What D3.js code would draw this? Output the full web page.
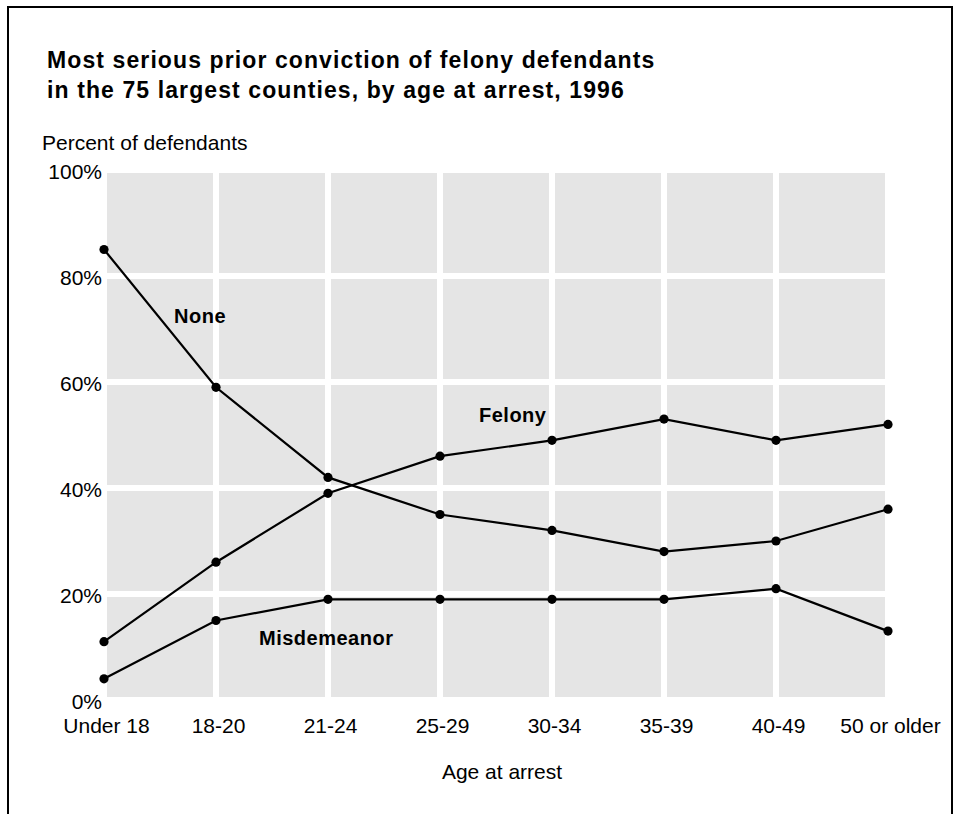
<!DOCTYPE html>
<html>
<head>
<meta charset="utf-8">
<script src="https://cdn.jsdelivr.net/npm/d3@7/dist/d3.min.js"></script>
<style>
  html, body { margin: 0; padding: 0; background: #fff; }
  svg { display: block; font-family: "Liberation Sans", Arial, sans-serif; }
</style>
</head>
<body>
<svg id="chart" width="959" height="814"></svg>
<script>
const categories = ["Under 18", "18-20", "21-24", "25-29", "30-34", "35-39", "40-49", "50 or older"];
const noneValues = [85, 59, 42, 35, 32, 28, 30, 36];
const felonyValues = [11, 26, 39, 46, 49, 53, 49, 52];
const misdemeanorValues = [4, 15, 19, 19, 19, 19, 21, 13];
const yTicks = [0, 20, 40, 60, 80, 100];
const titleLines = ["Most serious prior conviction of felony defendants",
                    "in the 75 largest counties, by age at arrest, 1996"];
const yAxisTitle = "Percent of defendants";
const xAxisTitle = "Age at arrest";
const seriesLabels = ["None", "Felony", "Misdemeanor"];

const svg = d3.select("#chart");

// frame
svg.append("rect").attr("x", 8).attr("y", 7).attr("width", 944).attr("height", 900)
  .attr("fill", "none").attr("stroke", "#000").attr("stroke-width", 2);

const x = d3.scalePoint().domain(categories).range([104, 888]);
const y = d3.scaleLinear().domain([0, 100]).range([700, 170]);

// plot background
svg.append("rect")
  .attr("x", x(categories[0]) + 3).attr("y", y(100) + 3)
  .attr("width", x(categories[categories.length - 1]) - x(categories[0]) - 6)
  .attr("height", y(0) - y(100) - 6)
  .attr("fill", "#e5e5e5");

// white grid lines
svg.append("g").selectAll("line").data(categories.slice(1, -1)).join("line")
  .attr("x1", d => x(d)).attr("x2", d => x(d))
  .attr("y1", y(100)).attr("y2", y(0))
  .attr("stroke", "#fff").attr("stroke-width", 6);
svg.append("g").selectAll("line").data(yTicks.slice(1, -1)).join("line")
  .attr("x1", x(categories[0])).attr("x2", x(categories[categories.length - 1]))
  .attr("y1", d => y(d)).attr("y2", d => y(d))
  .attr("stroke", "#fff").attr("stroke-width", 6);

// y axis
const yAxis = svg.append("g").attr("transform", "translate(102,0)")
  .call(d3.axisLeft(y).tickValues(yTicks).tickFormat(d => d + "%").tickSize(0).tickPadding(0));
yAxis.select(".domain").remove();
yAxis.selectAll("text").attr("font-size", 21).attr("fill", "#000")
  .attr("font-family", "Liberation Sans, Arial, sans-serif").attr("dy", "0.4em");

// x axis
const xAxis = svg.append("g").attr("transform", "translate(2," + y(0) + ")")
  .call(d3.axisBottom(x).tickSize(0).tickPadding(18));
xAxis.select(".domain").remove();
xAxis.selectAll("text").attr("font-size", 21).attr("fill", "#000")
  .attr("font-family", "Liberation Sans, Arial, sans-serif");

// titles
svg.append("text").attr("x", 47).attr("y", 68).attr("font-weight", "bold")
  .attr("font-size", 23).attr("letter-spacing", 1.1).text(titleLines[0]);
svg.append("text").attr("x", 47).attr("y", 98).attr("font-weight", "bold")
  .attr("font-size", 23).attr("letter-spacing", 1.1).text(titleLines[1]);
svg.append("text").attr("x", 42).attr("y", 150).attr("font-size", 21).text(yAxisTitle);
svg.append("text").attr("x", (x(categories[0]) + x(categories[categories.length - 1])) / 2 + 6)
  .attr("y", 779).attr("text-anchor", "middle").attr("font-size", 21).text(xAxisTitle);

// series
const series = [noneValues, felonyValues, misdemeanorValues];
const line = d3.line().x((d, i) => x(categories[i])).y(d => y(d));
series.forEach(vals => {
  svg.append("path").datum(vals).attr("d", line)
    .attr("fill", "none").attr("stroke", "#000").attr("stroke-width", 2.2);
  svg.append("g").selectAll("circle").data(vals).join("circle")
    .attr("cx", (d, i) => x(categories[i])).attr("cy", d => y(d)).attr("r", 4.6).attr("fill", "#000");
});

// series labels
const labelPos = [[174, 323], [479, 422], [259, 645]];
seriesLabels.forEach((t, i) => {
  svg.append("text").attr("x", labelPos[i][0]).attr("y", labelPos[i][1])
    .attr("font-weight", "bold").attr("font-size", 20).attr("letter-spacing", 0.5).text(t);
});
</script>
</body>
</html>
